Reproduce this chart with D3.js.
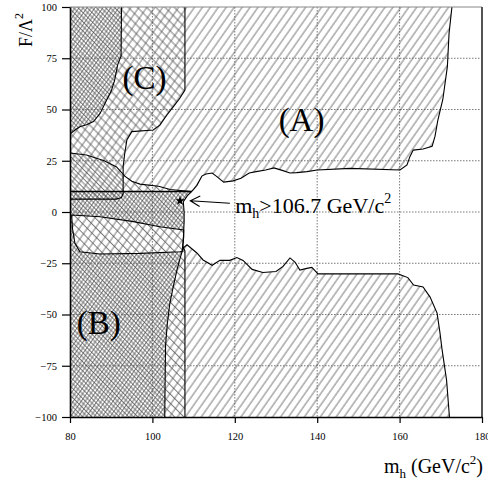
<!DOCTYPE html>
<html>
<head>
<meta charset="utf-8">
<script src="https://cdn.jsdelivr.net/npm/d3@7"></script>
<style>
body{margin:0;background:#fff}
svg{display:block}
text{font-family:"Liberation Serif","Times New Roman",serif;fill:#000}
</style>
</head>
<body>
<div id="grafico"></div>
<script>
//------------------------------ Datos (mh en GeV/c2, F/Lambda^2) --------------

const xTicks = [80, 100, 120, 140, 160, 180]
const yTicks = [-100, -75, -50, -25, 0, 25, 50, 75, 100]
const xGrid = [100, 120, 140, 160]
const yGrid = [-75, -50, -25, 0, 25, 50, 75]

// borde derecho de la region (A), parte alta
const aArribaDer = [[172.7,100],[172.0,87],[171.6,71],[170.5,55],[169.3,45],[168.6,37],[167.9,32],
  [165.7,30.7],[163.3,30.2],[162.5,27],[161.8,23],[160.1,20.5]]
// borde superior del hueco (de derecha a izquierda)
const huecoArriba = [[148,21.3],[140,20.5],[137.5,19.7],[135,19.2],[133.4,19.0],[131.5,20.3],[129.5,21.5],
  [127.5,20.5],[125.5,19.8],[123.5,19.0],[121.5,16.5],[119.6,15.2],[117.3,14.6],[115.5,17.5],[114.5,19.0],
  [113,18.5],[112,17.5],[110.8,13],[110,11],[109.5,10]]
// borde izquierdo del hueco
const huecoIzq = [[108.5,8],[107.5,5],[107.7,0],[107.7,-5],[107.6,-8.8],[107.6,-12],[107.4,-16],[107.5,-17.5]]
// borde inferior del hueco (de izquierda a derecha)
const huecoAbajo = [[108.4,-16],[110.8,-20],[112.3,-23.4],[114.5,-26],[116.4,-23.6],[118.8,-23.6],[120.5,-22.2],
  [122,-23.6],[124.2,-28],[126.8,-29.5],[130.0,-29],[131.7,-26.5],[133.4,-22.4],[134.6,-24.4],[135.8,-28.3],
  [137.5,-27.5],[138.7,-27],[140.2,-30.2],[150,-30.2],[159.6,-30.2]]
// borde derecho de (A), parte baja
const aAbajoDer = [[162,-32],[163.4,-35.6],[165.7,-36.6],[167.4,-41.5],[169.1,-49.3],[169.8,-59],
  [170.3,-67],[171.4,-82],[172.1,-100]]

// contorno de la region (C)
const bordeC = [[107.9,100],[107.9,59.5],[106.7,55.6],[105.1,51.4],[103.5,47.3],[101.8,42.4],[100.2,40],
  [95,39.2],[93.8,35.1],[93.3,28.8],[92.9,22.1],[92.9,16],[92.9,9],[92.5,7],[91.2,6.3],[80,6.3]]
// zona densa arriba a la izquierda
const bordeDensoC = [[92.5,100],[92.4,76],[91.6,72],[90.8,64],[90,59],[88.9,54.6],[87.3,48.1],
  [85.7,44.1],[84,42.6],[82.4,41.6],[81.2,40],[80,38]]

// borde superior de la region (B)
const bordeB = [[80,28.8],[84,27.8],[88.3,25],[91.3,22],[93.3,17.5],[95,15],[97,13.6],[101.5,12.6],
  [104.3,11],[107.5,10.4],[109.5,10]]
const bordeBDer = [[107.9,-19],[107.9,-100]]
// borde derecho de la parte densa de (B)
const bordeDensoB = [[107.5,-17.5],[106.8,-22],[106,-28],[105,-37],[104.2,-45],[103.6,-55],[103.2,-65],
  [103.1,-80],[103.0,-100]]
// banda menos densa dentro de (B)
const banda = [[80.4,-1.5],[87.3,-2.3],[95.4,-4.7],[101.8,-7.2],[107.6,-8.8],[107.5,-14],[107.2,-19.2],
  [106.7,-19.4],[97,-20.2],[87.3,-20.5],[82.4,-19.4],[81.2,-15.3],[80.6,-8]]
const lineaF10 = [[80,10],[109.5,10]]

const estrella = [106.7, 5.5]
const flecha = [[118.8,4.3],[109.2,5.5]]

//------------------------------ Grafico --------------

const width = 488, height = 482
const x = d3.scaleLinear().domain([80, 180]).range([70, 482])
const y = d3.scaleLinear().domain([-100, 100]).range([417, 7])

const svg = d3.select("#grafico").append("svg")
  .attr("width", width).attr("height", height)

const defs = svg.append("defs")
defs.append("clipPath").attr("id", "area")
  .append("rect").attr("x", x(80)).attr("y", y(100))
  .attr("width", x(180) - x(80)).attr("height", y(-100) - y(100))

// rayado: lineas paralelas giradas
const paso = 6.5
function patron(id, angulo, desfase){
  const p = defs.append("pattern").attr("id", id)
    .attr("patternUnits", "userSpaceOnUse")
    .attr("width", paso).attr("height", paso)
    .attr("patternTransform", `rotate(${angulo})`)
  p.append("line").attr("x1", desfase).attr("x2", desfase).attr("y1", 0).attr("y2", paso)
    .attr("stroke", "#505050").attr("stroke-width", 0.75)
}
patron("hA", 35, 1)          // "/" de (A)
patron("hC", -45, 1)         // "\" de (C)
patron("hB", -45, 4.25)      // "\" de (B)
patron("hDa", 35, 4.25)      // "/" extra, zonas densas
patron("hDc", -45, 4.25)     // "\" extra, zona densa de (C)
patron("hDb", -45, 1)        // "\" extra, zona densa de (B)

const linea = d3.line().x(d => x(d[0])).y(d => y(d[1]))
const cerrado = pts => linea(pts) + "Z"

const zonas = svg.append("g").attr("clip-path", "url(#area)")

// (A): todo salvo el hueco y la parte derecha
const contornoA = [...aArribaDer, [160.1,20.5], ...huecoArriba, ...huecoIzq, ...huecoAbajo, ...aAbajoDer]
zonas.append("path").attr("d", cerrado([[80,100], ...contornoA, [80,-100]])).attr("fill", "url(#hA)")

// (C)
zonas.append("path").attr("d", cerrado([[80,100], ...bordeC])).attr("fill", "url(#hC)")

// (B)
const poligonoB = [...bordeB, ...huecoIzq, ...bordeBDer, [80,-100]]
zonas.append("path").attr("d", cerrado(poligonoB)).attr("fill", "url(#hB)")

// zonas densas
const densaC = cerrado([[80,100], ...bordeDensoC])
const densaB = cerrado([...lineaF10, ...huecoIzq, ...bordeDensoB, [80,-100]]) + cerrado(banda)
zonas.append("path").attr("d", densaC).attr("fill", "url(#hDa)")
zonas.append("path").attr("d", densaC).attr("fill", "url(#hDc)")
zonas.append("path").attr("d", densaB).attr("fill", "url(#hDa)").attr("fill-rule", "evenodd")
zonas.append("path").attr("d", densaB).attr("fill", "url(#hDb)").attr("fill-rule", "evenodd")

// rejilla punteada
const rejilla = svg.append("g").attr("stroke", "#555").attr("stroke-width", 0.8)
  .attr("stroke-dasharray", "1.5,1.5")
rejilla.selectAll(".v").data(xGrid).enter().append("line")
  .attr("x1", d => x(d)).attr("x2", d => x(d)).attr("y1", y(100)).attr("y2", y(-100))
rejilla.selectAll(".h").data(yGrid).enter().append("line")
  .attr("x1", x(80)).attr("x2", x(180)).attr("y1", d => y(d)).attr("y2", d => y(d))

// contornos
const contornos = svg.append("g").attr("clip-path", "url(#area)")
  .attr("fill", "none").attr("stroke", "#000").attr("stroke-width", 1.1)
contornos.append("path").attr("d", linea(contornoA))
contornos.append("path").attr("d", linea(bordeC))
contornos.append("path").attr("d", linea(bordeDensoC))
contornos.append("path").attr("d", linea(bordeB))
contornos.append("path").attr("d", linea([[107.5,-17.5], ...bordeBDer]))
contornos.append("path").attr("d", linea(bordeDensoB))
contornos.append("path").attr("d", cerrado(banda))
contornos.append("path").attr("d", linea(lineaF10)).attr("stroke-width", 1.4)

// marco
svg.append("line").attr("x1", x(80)).attr("x2", x(180)).attr("y1", y(100)).attr("y2", y(100))
  .attr("stroke", "#888").attr("stroke-width", 1)
svg.append("line").attr("x1", x(180)).attr("x2", x(180)).attr("y1", y(100)).attr("y2", y(-100))
  .attr("stroke", "#555").attr("stroke-width", 2)

// ejes
const ejeX = svg.append("g").attr("transform", `translate(0,${y(-100)})`)
  .call(d3.axisBottom(x).tickValues(xTicks).tickSize(6).tickSizeOuter(0).tickPadding(9.5))
const ejeY = svg.append("g").attr("transform", `translate(${x(80)},0)`)
  .call(d3.axisLeft(y).tickValues(yTicks).tickSize(8).tickSizeOuter(0).tickPadding(5))
;[ejeX, ejeY].forEach(g => {
  g.select(".domain").attr("stroke-width", 1.6)
  g.selectAll(".tick line").attr("stroke-width", 1.2)
  g.selectAll("text").attr("font-family", "Liberation Serif").attr("font-size", 10.5)
})

// estrella y flecha
svg.append("path").attr("d", d3.symbol(d3.symbolStar, 28)())
  .attr("transform", `translate(${x(estrella[0])},${y(estrella[1])})`).attr("fill", "#000")
const [p0, p1] = flecha.map(d => [x(d[0]), y(d[1])])
const ang = Math.atan2(p0[1] - p1[1], p0[0] - p1[0])
const brazo = a => [p1[0] + 11 * Math.cos(ang + a), p1[1] + 11 * Math.sin(ang + a)]
svg.append("path").attr("d", d3.line()([p0, p1]) + "M" + brazo(0.5) + "L" + p1 + "L" + brazo(-0.5))
  .attr("fill", "none").attr("stroke", "#000").attr("stroke-width", 1.1)

// etiquetas
const etiquetas = [["(A)", 136.2, 39.5], ["(B)", 87, -59.5], ["(C)", 98.1, 60]]
svg.selectAll(".etq").data(etiquetas).enter().append("text")
  .attr("x", d => x(d[1])).attr("y", d => y(d[2]))
  .attr("text-anchor", "middle").attr("font-size", 33).text(d => d[0])

const nota = svg.append("text").attr("x", x(120.1)).attr("y", y(-0.5)).attr("font-size", 22)
nota.append("tspan").text("m")
nota.append("tspan").attr("font-size", 14).attr("dy", 5).text("h")
nota.append("tspan").attr("dy", -5).text(">106.7 GeV/c")
nota.append("tspan").attr("font-size", 14).attr("dy", -10).text("2")

const tituloX = svg.append("text").attr("x", 483).attr("y", 473)
  .attr("text-anchor", "end").attr("font-size", 20)
tituloX.append("tspan").text("m")
tituloX.append("tspan").attr("font-size", 13).attr("dy", 5).text("h")
tituloX.append("tspan").attr("dy", -5).text(" (GeV/c")
tituloX.append("tspan").attr("font-size", 13).attr("dy", -9).text("2")
tituloX.append("tspan").attr("dy", 9).text(")")

const tituloY = svg.append("text").attr("transform", "translate(32,30) rotate(-90)")
  .attr("text-anchor", "middle").attr("font-size", 18)
tituloY.append("tspan").text("F/Λ")
tituloY.append("tspan").attr("font-size", 12).attr("dy", -9).text("2")
</script>
</body>
</html>
